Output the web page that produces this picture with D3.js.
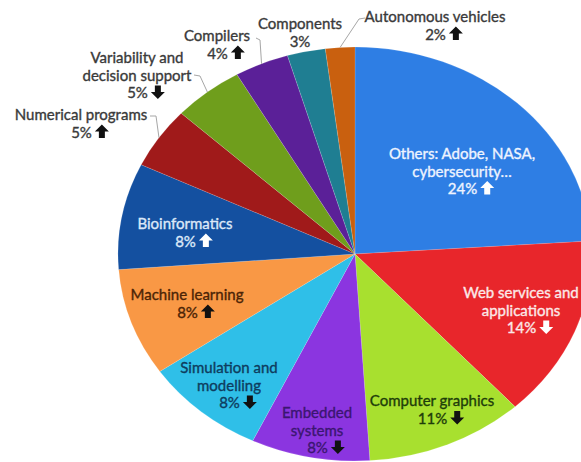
<!DOCTYPE html>
<html>
<head>
<meta charset="utf-8">
<script src="https://cdn.jsdelivr.net/npm/d3@7"></script>
<style>
  body { margin: 0; background: #fff; }
  svg { display: block; }
  text { font-family: Lato, "Open Sans", sans-serif; font-size: 15px; stroke-width: 0.35px; }
</style>
</head>
<body>
<svg id="chart" width="581" height="462"></svg>
<script>
// data, clockwise from 12 o'clock
const categories = [
  "Others: Adobe, NASA, cybersecurity…", "Web services and applications", "Computer graphics",
  "Embedded systems", "Simulation and modelling", "Machine learning", "Bioinformatics",
  "Numerical programs", "Variability and decision support", "Compilers", "Components",
  "Autonomous vehicles"
];
const shares = [24, 14.2, 10.8, 8.1, 8.3, 8.4, 8.3, 4.8, 4.8, 3.7, 2.6, 2.0];
const trends = ["up", "down", "down", "down", "down", "up", "up", "up", "down", "up", "none", "up"];

// label lines as they wrap on the picture
const labelLines = [
  ["Others: Adobe, NASA,", "cybersecurity…"],
  ["Web services and", "applications"],
  ["Computer graphics"],
  ["Embedded", "systems"],
  ["Simulation and", "modelling"],
  ["Machine learning"],
  ["Bioinformatics"],
  ["Numerical programs"],
  ["Variability and", "decision support"],
  ["Compilers"],
  ["Components"],
  ["Autonomous vehicles"]
];

const colors = ["#2e7ee4", "#e8262b", "#a8e02f", "#8b35e0", "#2fbfe8", "#f99845",
                "#1450a0", "#a01a1a", "#6f9e1c", "#5b2098", "#1f7e92", "#c9600f"];
const textColors = ["#eef4ff", "#fbe8e8", "#1e3d0a", "#3b1670", "#0e3c5e", "#4b2406",
                    "#dce8f8", "#3a3a3a", "#3a3a3a", "#3a3a3a", "#3a3a3a", "#3a3a3a"];
const arrowColors = ["#fff", "#fff", "#111", "#111", "#111", "#111",
                     "#fff", "#111", "#111", "#111", "#111", "#111"];

// label anchor (centre x, first line centre y) and leader elbows
const labelPos = [
  [462, 153], [521, 292], [432, 400], [317, 412], [229, 367], [187, 294],
  [185, 223], [81, 114], [137, 57], [217, 35], [300, 23], [435, 16]
];
const leaders = {
  7: [[150, 116], [156, 116]],
  8: [[194, 75], [200, 76]],
  9: [[256, 38], [260, 40]],
  11: [[365, 18], [359, 19]]
};

const cx = 355, cy = 254, rx = 237, ry = 207;
const lineH = 17.5;

const svg = d3.select("#chart");

const pie = d3.pie().sort(null).value(d => d);
const arcs = pie(shares);
const arc = d3.arc().innerRadius(0).outerRadius(rx);

svg.append("g")
  .attr("transform", `translate(${cx},${cy}) scale(1,${ry / rx})`)
  .selectAll("path")
  .data(arcs)
  .join("path")
  .attr("d", arc)
  .attr("fill", (d, i) => colors[i])
  .attr("stroke", "#fff")
  .attr("stroke-opacity", 0.25)
  .attr("stroke-width", 0.6);

// leader lines to the slice edge
Object.keys(leaders).forEach(k => {
  const d = arcs[k];
  const a = (d.startAngle + d.endAngle) / 2;
  const edge = [cx + rx * Math.sin(a), cy - ry * Math.cos(a)];
  svg.append("path")
    .attr("d", d3.line()([...leaders[k], edge]))
    .attr("fill", "none")
    .attr("stroke", "#a6a6a6")
    .attr("stroke-width", 1);
});

function arrow(g, x, y, dir, color) {
  const s = dir === "up" ? 1 : -1;
  const pts = [[0, -7], [7, 0], [3, 0], [3, 6.5], [-3, 6.5], [-3, 0], [-7, 0]]
    .map(p => [x + p[0], y + p[1] * s]);
  g.append("path")
    .attr("d", d3.line()(pts) + "Z")
    .attr("fill", color);
}

const labels = svg.append("g");
labelLines.forEach((lines, i) => {
  const [lx, ly] = labelPos[i];
  lines.forEach((t, j) => {
    labels.append("text")
      .attr("x", lx).attr("y", ly + j * lineH)
      .attr("text-anchor", "middle")
      .attr("dominant-baseline", "central")
      .attr("fill", textColors[i])
      .attr("stroke", textColors[i])
      .text(t);
  });
  const py = ly + lines.length * lineH;
  const pct = Math.round(shares[i]) + "%";
  const pt = labels.append("text")
    .attr("y", py)
    .attr("dominant-baseline", "central")
    .attr("fill", textColors[i])
    .attr("stroke", textColors[i])
    .text(pct);
  if (trends[i] === "none") {
    pt.attr("x", lx).attr("text-anchor", "middle");
  } else {
    const w = pt.node().getComputedTextLength();
    const total = w + 3 + 14;
    const x0 = lx + 9 - total / 2;
    pt.attr("x", x0);
    arrow(labels, x0 + w + 3 + 7, py, trends[i], arrowColors[i]);
  }
});
</script>
</body>
</html>
